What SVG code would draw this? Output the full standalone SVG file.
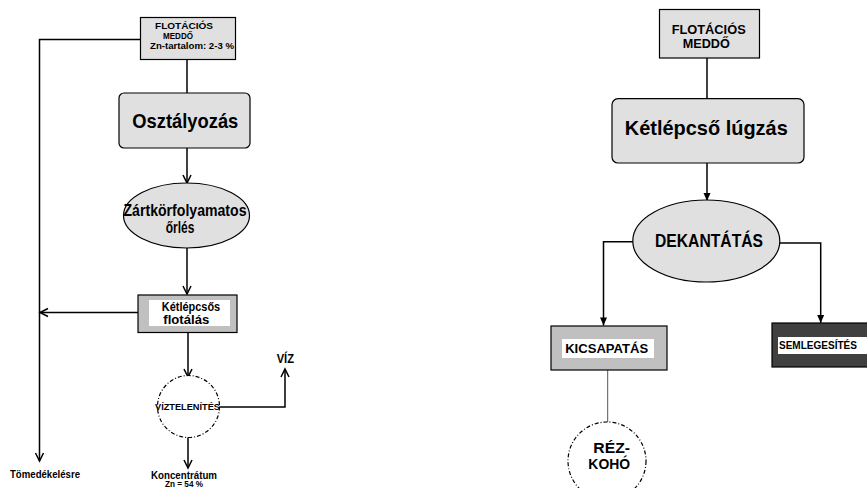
<svg xmlns="http://www.w3.org/2000/svg" width="867" height="488" viewBox="0 0 867 488">
<defs>
<style>
text{font-family:"Liberation Sans",Arial,sans-serif;font-weight:bold;fill:#000;text-anchor:middle}
.lite{fill:#e0e0e0;stroke:#000;stroke-width:1.2}
.mid{fill:#c0c0c0;stroke:#000;stroke-width:1.2}
.dark{fill:#404040;stroke:#000;stroke-width:1.2}
.white{fill:#fff;stroke:none}
.dd{fill:#fff;stroke:#000;stroke-width:1.2;stroke-dasharray:4 2 1 2}
.c{fill:none;stroke:#000;stroke-width:1.5}
.v{marker-end:url(#open)}
.f{marker-end:url(#fill)}
</style>
<marker id="open" markerUnits="userSpaceOnUse" markerWidth="12" markerHeight="12" refX="8" refY="4" orient="auto" overflow="visible">
<path d="M0,0 L8,4 L0,8" fill="none" stroke="#000" stroke-width="1.5"/>
</marker>
<marker id="fill" markerUnits="userSpaceOnUse" markerWidth="10" markerHeight="10" refX="8" refY="3.5" orient="auto" overflow="visible">
<path d="M0,0 L8,3.5 L0,7 Z" fill="#000"/>
</marker>
</defs>
<rect width="867" height="488" fill="#fff"/>

<g id="connectors">
<path class="c v" d="M140,39.5 H39.5 V461"/>
<path class="c" d="M187,59.5 V93"/>
<path class="c v" d="M187,148 V183"/>
<path class="c v" d="M187,248 V294"/>
<path class="c v" d="M138,312.5 H40"/>
<path class="c v" d="M188,333 V377"/>
<path class="c v" d="M219.5,407 H285 V369"/>
<path class="c v" d="M188,437 V468"/>
<path class="c" d="M707,58 V98.7"/>
<path class="c f" d="M707,163 V201"/>
<path class="c f" d="M633,241.7 H603.5 V325.5"/>
<path class="c f" d="M779.5,243 H820.7 V323"/>
<path fill="none" stroke="#555" stroke-width="1" d="M607.7,370 V422"/>
</g>

<g id="flotacios-medd-left">
<rect class="lite" x="140.5" y="17.5" width="95" height="42"/>
<text x="184" y="29" font-size="9.5" textLength="58" lengthAdjust="spacingAndGlyphs">FLOTÁCIÓS</text>
<text x="178" y="38.5" font-size="9.5" textLength="30" lengthAdjust="spacingAndGlyphs">MEDDŐ</text>
<text x="192" y="48.5" font-size="9.5" textLength="84" lengthAdjust="spacingAndGlyphs">Zn-tartalom: 2-3 %</text>
</g>

<g id="osztalyozas">
<rect class="lite" x="119" y="93" width="131" height="55" rx="5"/>
<text x="185.3" y="127.5" font-size="21" textLength="106" lengthAdjust="spacingAndGlyphs">Osztályozás</text>
</g>

<g id="orles">
<ellipse class="lite" cx="186.5" cy="215.5" rx="63" ry="32.5"/>
<text x="185" y="215.7" font-size="16" textLength="123" lengthAdjust="spacingAndGlyphs">Zártkörfolyamatos</text>
<text x="180" y="233" font-size="16" textLength="28.6" lengthAdjust="spacingAndGlyphs">őrlés</text>
</g>

<g id="flotalas">
<rect class="mid" x="138" y="295" width="99" height="37.5"/>
<rect class="white" x="149" y="300" width="81" height="26"/>
<text x="191" y="311" font-size="12.5" textLength="58.3" lengthAdjust="spacingAndGlyphs">Kétlépcsős</text>
<text x="186.3" y="323.5" font-size="12.5" textLength="46" lengthAdjust="spacingAndGlyphs">flotálás</text>
</g>

<g id="viztelenites">
<circle class="dd" cx="188.5" cy="406.5" r="31"/>
<text x="187.5" y="409.5" font-size="9.5" textLength="65" lengthAdjust="spacingAndGlyphs">VÍZTELENÍTÉS</text>
</g>

<g id="labels-left">
<text x="285.3" y="363" font-size="12" textLength="17.3" lengthAdjust="spacingAndGlyphs">VÍZ</text>
<text x="45" y="477.7" font-size="10" textLength="70" lengthAdjust="spacingAndGlyphs">Tömedékelésre</text>
<text x="184" y="478.5" font-size="10" textLength="66" lengthAdjust="spacingAndGlyphs">Koncentrátum</text>
<text x="184" y="487" font-size="9" textLength="38" lengthAdjust="spacingAndGlyphs">Zn = 54 %</text>
</g>

<g id="flotacios-medd-right">
<rect class="lite" x="659.5" y="9.5" width="100" height="48.5"/>
<text x="708.7" y="34" font-size="13" textLength="74" lengthAdjust="spacingAndGlyphs">FLOTÁCIÓS</text>
<text x="706.3" y="48.3" font-size="13" textLength="47" lengthAdjust="spacingAndGlyphs">MEDDŐ</text>
</g>

<g id="lugzas">
<rect class="lite" x="612" y="98.7" width="192" height="64.3" rx="6"/>
<text x="706.3" y="135" font-size="21" textLength="163" lengthAdjust="spacingAndGlyphs">Kétlépcső lúgzás</text>
</g>

<g id="dekantatas">
<ellipse class="lite" cx="706.3" cy="241" rx="73.5" ry="41"/>
<text x="709" y="246.7" font-size="19" textLength="108" lengthAdjust="spacingAndGlyphs">DEKANTÁTÁS</text>
</g>

<g id="kicsapatas">
<rect class="mid" x="551" y="326" width="116" height="44"/>
<rect class="white" x="562" y="339" width="92" height="19"/>
<text x="606.7" y="352.7" font-size="13" textLength="83" lengthAdjust="spacingAndGlyphs">KICSAPATÁS</text>
</g>

<g id="semlegesites">
<rect class="dark" x="772" y="323" width="100" height="44"/>
<rect class="white" x="778" y="337" width="95" height="17"/>
<text x="818" y="349.3" font-size="11" textLength="78" lengthAdjust="spacingAndGlyphs">SEMLEGESÍTÉS</text>
</g>

<g id="rezkoho">
<circle class="dd" cx="607" cy="461" r="39"/>
<text x="611.7" y="453" font-size="14" textLength="36.7" lengthAdjust="spacingAndGlyphs">RÉZ-</text>
<text x="609.2" y="469" font-size="14" textLength="41.7" lengthAdjust="spacingAndGlyphs">KOHÓ</text>
</g>
</svg>
